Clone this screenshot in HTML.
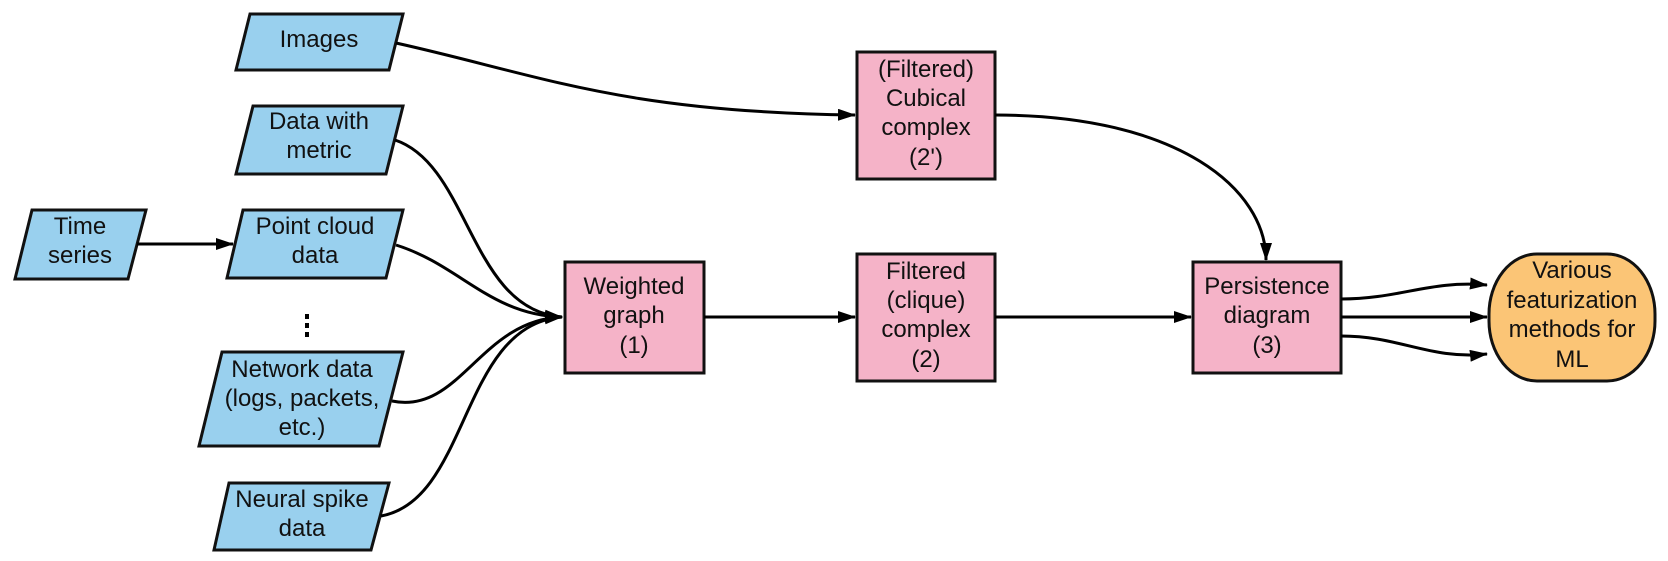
<!DOCTYPE html>
<html><head><meta charset="utf-8"><style>
html,body{margin:0;padding:0;background:#fff;}
svg{display:block;}
text{font-family:"Liberation Sans",sans-serif;font-size:24px;fill:#111;text-anchor:middle;}
</style></head><body>
<svg width="1668" height="561" viewBox="0 0 1668 561" xmlns="http://www.w3.org/2000/svg">
<defs>
<marker id="ah2" markerWidth="18" markerHeight="12" refX="17" refY="6" orient="auto" markerUnits="userSpaceOnUse" viewBox="0 0 18 12">
<path d="M0,0 L18,6 L0,12 z" fill="#000"/></marker>
</defs>
<g fill="#99d0ee" stroke="#111" stroke-width="3">
<polygon points="250,14 403,14 389,70 236,70"/>
<polygon points="253,106 403,106 386,174 236,174"/>
<polygon points="32,210 146,210 128,279 15,279"/>
<polygon points="243,210 403,210 386,278 227,278"/>
<polygon points="222,352 403,352 379,446 199,446"/>
<polygon points="229,483 389,483 371,550 214,550"/>
</g>
<g fill="#f5b3c8" stroke="#111" stroke-width="3">
<rect x="857" y="52" width="138" height="127"/>
<rect x="565" y="262" width="139" height="111"/>
<rect x="857" y="254" width="138" height="127"/>
<rect x="1193" y="262" width="148" height="111"/>
</g>
<rect x="1489" y="254" width="166" height="127" rx="48" ry="60" fill="#fbc576" stroke="#111" stroke-width="3"/>
<g fill="none" stroke="#000" stroke-width="3">
<path d="M396,43 C540,75 620,112 855,115" marker-end="url(#ah2)"/>
<path d="M137,244 L233,244" marker-end="url(#ah2)"/>
<path d="M395,140 C470,165 470,310 562,317" marker-end="url(#ah2)"/>
<path d="M396,245 C460,265 490,315 562,317" marker-end="url(#ah2)"/>
<path d="M392,401 C460,415 480,320 562,317" marker-end="url(#ah2)"/>
<path d="M381,516 C470,500 460,325 562,317" marker-end="url(#ah2)"/>
<path d="M704,317 L855,317" marker-end="url(#ah2)"/>
<path d="M995,317 L1191,317" marker-end="url(#ah2)"/>
<path d="M995,115 C1180,115 1266,190 1266,260" marker-end="url(#ah2)"/>
<path d="M1341,299 C1400,299 1430,280 1487,285" marker-end="url(#ah2)"/>
<path d="M1341,317 L1487,317" marker-end="url(#ah2)"/>
<path d="M1341,336 C1400,336 1430,360 1487,354" marker-end="url(#ah2)"/>
</g>
<g fill="#000"><rect x="305" y="314" width="4" height="5"/><rect x="305" y="323" width="4" height="5"/><rect x="305" y="332" width="4" height="5"/></g>
<text x="319" y="47">Images</text>
<text x="319" y="129">Data with</text><text x="319" y="158">metric</text>
<text x="80" y="234">Time</text><text x="80" y="263">series</text>
<text x="315" y="234">Point cloud</text><text x="315" y="263">data</text>
<text x="302" y="377">Network data</text><text x="302" y="406">(logs, packets,</text><text x="302" y="435">etc.)</text>
<text x="302" y="507">Neural spike</text><text x="302" y="536">data</text>
<text x="926" y="77">(Filtered)</text><text x="926" y="106">Cubical</text><text x="926" y="135">complex</text><text x="926" y="165">(2')</text>
<text x="634" y="294">Weighted</text><text x="634" y="323">graph</text><text x="634" y="353">(1)</text>
<text x="926" y="279">Filtered</text><text x="926" y="308">(clique)</text><text x="926" y="337">complex</text><text x="926" y="367">(2)</text>
<text x="1267" y="294">Persistence</text><text x="1267" y="323">diagram</text><text x="1267" y="353">(3)</text>
<text x="1572" y="278">Various</text><text x="1572" y="308">featurization</text><text x="1572" y="337">methods for</text><text x="1572" y="367">ML</text>
</svg>
</body></html>
